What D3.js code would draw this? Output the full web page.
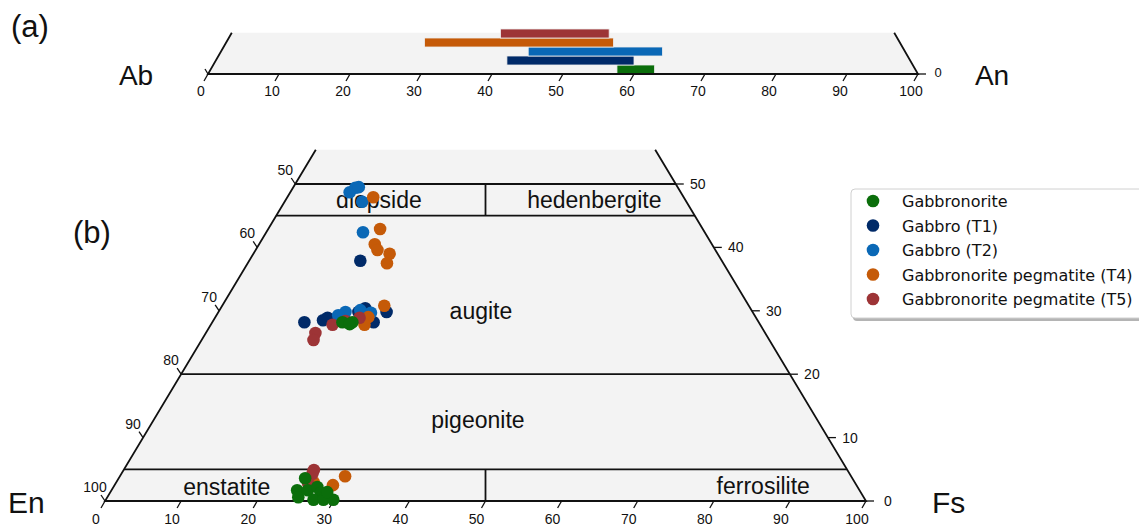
<!DOCTYPE html>
<html>
<head>
<meta charset="utf-8">
<script src="https://cdn.jsdelivr.net/npm/d3@7"></script>
<style>
  body { margin: 0; background: #fff; }
  text { font-family: "Liberation Sans", Arial, sans-serif; fill: #111; }
</style>
</head>
<body>
<div id="chart"></div>
<script>
// series, legend order
var seriesNames = ['Gabbronorite', 'Gabbro (T1)', 'Gabbro (T2)', 'Gabbronorite pegmatite (T4)', 'Gabbronorite pegmatite (T5)'];
var seriesColors = ['#0b6e0b', '#002a68', '#0a68b6', '#c55a08', '#9d3436'];

// (a) plagioclase An range (mol%)
var anMin = [57.6, 42.1, 45.1, 30.5, 41.2];
var anMax = [62.9, 60.0, 64.0, 57.1, 56.5];
var anTicks = [0, 10, 20, 30, 40, 50, 60, 70, 80, 90, 100];

// (b) pyroxene analyses as [Wo, Fs]
var gabbronorite = [[28.2, 17.1], [28.2, 18.4], [27.9, 18.2], [3.6, 24.5], [1.7, 24.4], [0.6, 25.1],
  [1.7, 25.8], [2.2, 26.8], [1.3, 27.7], [0.2, 27.3], [0.2, 28.6], [0.2, 29.9], [1.4, 28.5]];
var gabbroT1 = [[37.9, 14.6], [28.2, 12.1], [28.5, 14.4], [28.9, 14.8], [29.8, 18.4], [30.4, 19.0],
  [29.8, 22.1], [28.2, 21.2]];
var gabbroT2 = [[49.4, 8.2], [48.7, 7.8], [49.5, 8.6], [47.2, 10.2], [42.4, 12.7], [29.8, 16.7],
  [29.3, 16.0], [30.1, 18.5], [29.7, 20.1]];
var pegmatiteT4 = [[47.9, 11.3], [42.9, 14.7], [40.5, 15.2], [39.6, 16.0], [39.0, 17.9], [37.5, 18.3],
  [30.8, 21.3], [29.0, 20.1], [27.8, 20.2], [3.9, 29.6], [2.5, 28.7], [3.0, 25.9]];
var pegmatiteT5 = [[28.9, 19.0], [28.4, 17.4], [27.8, 16.0], [26.5, 14.4], [25.4, 14.7], [4.9, 25.0],
  [4.3, 25.1], [2.8, 25.3]];

var pxTicks = [0, 10, 20, 30, 40, 50, 60, 70, 80, 90, 100];
var woTicks = [0, 10, 20, 30, 40, 50];
var fieldLines = [50, 45, 20, 5];
var fieldNames = ['diopside', 'hedenbergite', 'augite', 'pigeonite', 'enstatite', 'ferrosilite'];
var fieldPos = [[47.5, 36], [47.5, 64.3], [30, 49.4], [12.8, 49], [2.2, 16], [2.4, 86.5]]; // [Wo, x-position %]

var svg = d3.select('#chart').append('svg').attr('width', 1139).attr('height', 526);

// ---------- panel (a) ----------
var A = d3.scaleLinear().domain([0, 100]).range([208, 918]);
var aY = 74;
var orTop = 6.7;
var orH = 615 / 100;
function aProj(an, or) { return [A(an + or / 2), aY - or * orH]; }

var ga = svg.append('g');
ga.append('path')
  .attr('d', d3.line()([aProj(0, 0), aProj(100, 0), aProj(100 - orTop, orTop), aProj(0, orTop)]))
  .style('fill', '#f3f3f3');

var band = d3.scaleBand().domain([4, 3, 2, 1, 0]).range([29, aY]);
ga.selectAll('rect.bar').data(d3.range(5)).enter().append('rect')
  .attr('class', 'bar')
  .attr('x', function (i) { return A(anMin[i]); })
  .attr('width', function (i) { return A(anMax[i]) - A(anMin[i]); })
  .attr('y', function (i) { return band(i); })
  .attr('height', band.bandwidth())
  .style('fill', function (i) { return seriesColors[i]; })
  .style('stroke', '#eee')
  .style('stroke-width', 0.8);

ga.append('path').attr('d', d3.line()([aProj(0, orTop), aProj(0, 0), aProj(100, 0), aProj(100 - orTop, orTop)]))
  .style('fill', 'none').style('stroke', '#111').style('stroke-width', 1.8);
ga.selectAll('line.at').data(anTicks).enter().append('line')
  .attr('x1', function (d) { return A(d); }).attr('y1', aY)
  .attr('x2', function (d) { return A(d) - 4; }).attr('y2', aY + 7)
  .style('stroke', '#111').style('stroke-width', 1.3);
ga.selectAll('text.at').data(anTicks).enter().append('text')
  .attr('x', function (d) { return A(d) - 7; }).attr('y', 96)
  .attr('text-anchor', 'middle').attr('font-size', 14)
  .text(function (d) { return d; });
ga.append('line').attr('x1', A(100)).attr('y1', aY).attr('x2', A(100) + 8).attr('y2', aY)
  .style('stroke', '#111').style('stroke-width', 1.3);
ga.append('line').attr('x1', A(0)).attr('y1', aY).attr('x2', A(0) - 3).attr('y2', aY - 5)
  .style('stroke', '#111').style('stroke-width', 1.3);
ga.append('text').attr('x', A(100) + 20).attr('y', 77).attr('text-anchor', 'middle').attr('font-size', 13).text('0');
ga.append('text').attr('x', 136).attr('y', 85).attr('text-anchor', 'middle').attr('font-size', 28).text('Ab');
ga.append('text').attr('x', 992).attr('y', 85).attr('text-anchor', 'middle').attr('font-size', 28).text('An');
ga.append('text').attr('x', 11).attr('y', 37).attr('font-size', 31).text('(a)');

// ---------- panel (b) ----------
var X = d3.scaleLinear().domain([0, 100]).range([105, 866]);
var Y = d3.scaleLinear().domain([0, 100]).range([501, -133]);
function proj(wo, fs) { return [X(fs + wo / 2), Y(wo)]; }
var woTop = 55.4;

var gb = svg.append('g');
gb.append('path')
  .attr('d', d3.line()([proj(0, 0), proj(0, 100), proj(woTop, 100 - woTop), proj(woTop, 0)]))
  .style('fill', '#f3f3f3');

var lineStyle = function (s) { return s.style('stroke', '#111').style('stroke-width', 1.8).style('fill', 'none'); };
gb.append('path').attr('d', d3.line()([proj(woTop, 0), proj(0, 0), proj(0, 100), proj(woTop, 100 - woTop)])).call(lineStyle);
gb.selectAll('path.field').data(fieldLines).enter().append('path')
  .attr('d', function (w) { return d3.line()([proj(w, 0), proj(w, 100 - w)]); }).call(lineStyle);
gb.append('path').attr('d', d3.line()([[X(50), Y(50)], [X(50), Y(45)]])).call(lineStyle);
gb.append('path').attr('d', d3.line()([[X(50), Y(5)], [X(50), Y(0)]])).call(lineStyle);

// bottom axis (Fs)
gb.selectAll('line.bt').data(pxTicks).enter().append('line')
  .attr('x1', function (d) { return X(d); }).attr('y1', Y(0))
  .attr('x2', function (d) { return X(d) - 4; }).attr('y2', Y(0) + 7)
  .style('stroke', '#111').style('stroke-width', 1.3);
gb.selectAll('text.bt').data(pxTicks).enter().append('text')
  .attr('x', function (d) { return X(d) - 9; }).attr('y', 524)
  .attr('text-anchor', 'middle').attr('font-size', 14)
  .text(function (d) { return d; });

// left axis (En)
gb.selectAll('line.lt').data(woTicks).enter().append('line')
  .attr('x1', function (w) { return proj(w, 0)[0]; }).attr('y1', function (w) { return proj(w, 0)[1]; })
  .attr('x2', function (w) { return proj(w, 0)[0] - 4; }).attr('y2', function (w) { return proj(w, 0)[1] - 6; })
  .style('stroke', '#111').style('stroke-width', 1.3);
gb.selectAll('text.lt').data(woTicks).enter().append('text')
  .attr('x', function (w) { return proj(w, 0)[0] - 10; }).attr('y', function (w) { return proj(w, 0)[1] - 9; })
  .attr('text-anchor', 'middle').attr('font-size', 14)
  .text(function (w) { return 100 - w; });

// right axis (Wo)
gb.selectAll('line.rt').data(woTicks).enter().append('line')
  .attr('x1', function (w) { return proj(w, 100 - w)[0]; }).attr('y1', function (w) { return Y(w); })
  .attr('x2', function (w) { return proj(w, 100 - w)[0] + 8; }).attr('y2', function (w) { return Y(w); })
  .style('stroke', '#111').style('stroke-width', 1.3);
gb.selectAll('text.rt').data(woTicks).enter().append('text')
  .attr('x', function (w) { return proj(w, 100 - w)[0] + 22; }).attr('y', function (w) { return Y(w) + 5; })
  .attr('text-anchor', 'middle').attr('font-size', 14)
  .text(function (w) { return w; });

// field names
gb.selectAll('text.fn').data(fieldNames).enter().append('text')
  .attr('x', function (d, i) { return X(fieldPos[i][1]); })
  .attr('y', function (d, i) { return Y(fieldPos[i][0]) + 8; })
  .attr('text-anchor', 'middle').attr('font-size', 23)
  .text(function (d) { return d; });

// points: drawn T1, T2, T4, T5, then Gabbronorite on top
var pointSets = [gabbronorite, gabbroT1, gabbroT2, pegmatiteT4, pegmatiteT5];
[1, 2, 3, 4, 0].forEach(function (s) {
  gb.selectAll('circle.s' + s).data(pointSets[s]).enter().append('circle')
    .attr('class', 's' + s)
    .attr('cx', function (d) { return proj(d[0], d[1])[0]; })
    .attr('cy', function (d) { return proj(d[0], d[1])[1]; })
    .attr('r', 6.3)
    .style('fill', seriesColors[s]);
});

gb.append('text').attr('x', 8).attr('y', 513).attr('font-size', 30).text('En');
gb.append('text').attr('x', 932).attr('y', 513).attr('font-size', 30).text('Fs');
gb.append('text').attr('x', 73).attr('y', 243).attr('font-size', 31).text('(b)');

// legend
var lg = svg.append('g');
lg.append('rect').attr('x', 853).attr('y', 192).attr('width', 300).attr('height', 129).attr('rx', 4)
  .style('fill', '#b4b4b4');
lg.append('rect').attr('x', 851).attr('y', 189).attr('width', 300).attr('height', 129).attr('rx', 4)
  .style('fill', '#fff').style('stroke', '#d0d0d0').style('stroke-width', 1);
var rowY = d3.scaleLinear().domain([0, 4]).range([201, 299]);
lg.selectAll('circle').data(seriesNames).enter().append('circle')
  .attr('cx', 873).attr('cy', function (d, i) { return rowY(i); }).attr('r', 6.3)
  .style('fill', function (d, i) { return seriesColors[i]; });
lg.selectAll('text').data(seriesNames).enter().append('text')
  .attr('x', 902).attr('y', function (d, i) { return rowY(i) + 6; })
  .style('font-family', '"DejaVu Sans", sans-serif').attr('font-size', 16)
  .text(function (d) { return d; });
</script>
</body>
</html>
